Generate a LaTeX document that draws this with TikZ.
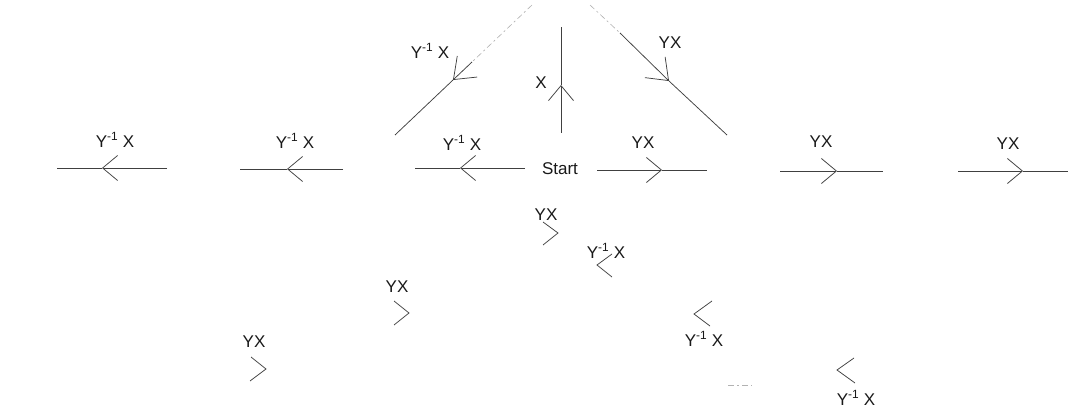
\documentclass[tikz,border=0pt]{standalone}
\usepackage{fontspec}
\setmainfont{Liberation Sans}
\usetikzlibrary{arrows.meta}
\tikzset{
  edge/.style={draw=black!75, line width=0.75pt},
  faint/.style={draw=black!30, line width=0.6pt, dash pattern=on 6pt off 3pt on 2pt off 3pt},
  hbarb/.style={-{Straight Barb[length=15pt,width=25pt]}},
  dbarb/.style={-{Straight Barb[length=19pt,width=29pt]}},
  chev/.style={draw=black!75, line width=0.75pt},
  lbl/.style={font=\fontsize{17}{19}\selectfont, text=black!90, inner sep=0pt}
}
\newcommand{\yinv}{Y\textsuperscript{-1} X}
\begin{document}
\begin{tikzpicture}[x=1pt,y=-1pt]
\useasboundingbox (0,0) rectangle (1069,409);
% horizontal arrows, left side (pointing left)
\coordinate (h1a) at (167,168); \coordinate (h1t) at (102,168); \coordinate (h1b) at (57,168);
\coordinate (h2a) at (343,169); \coordinate (h2t) at (287,169); \coordinate (h2b) at (240,169);
\coordinate (h3a) at (525,168); \coordinate (h3t) at (460,168); \coordinate (h3b) at (415,168);
\draw[edge,hbarb] (h1a) -- (h1t); \draw[edge] (h1t) -- (h1b);
\draw[edge,hbarb] (h2a) -- (h2t); \draw[edge] (h2t) -- (h2b);
\draw[edge,hbarb] (h3a) -- (h3t); \draw[edge] (h3t) -- (h3b);
% horizontal arrows, right side (pointing right)
\coordinate (h4a) at (597,170); \coordinate (h4t) at (662,170); \coordinate (h4b) at (707,170);
\coordinate (h5a) at (780,171); \coordinate (h5t) at (837,171); \coordinate (h5b) at (883,171);
\coordinate (h6a) at (958,171); \coordinate (h6t) at (1023,171); \coordinate (h6b) at (1068,171);
\draw[edge,hbarb] (h4a) -- (h4t); \draw[edge] (h4t) -- (h4b);
\draw[edge,hbarb] (h5a) -- (h5t); \draw[edge] (h5t) -- (h5b);
\draw[edge,hbarb] (h6a) -- (h6t); \draw[edge] (h6t) -- (h6b);
% vertical arrow
\coordinate (va) at (561,133); \coordinate (vt) at (561,85); \coordinate (vb) at (561,27);
\draw[edge,hbarb] (va) -- (vt); \draw[edge] (vt) -- (vb);
% left diagonal
\coordinate (lda) at (532,5); \coordinate (ldm) at (472,62); \coordinate (ldt) at (453,80); \coordinate (ldb) at (395,135);
\draw[faint] (lda) -- (ldm);
\draw[edge,dbarb] (ldm) -- (ldt); \draw[edge] (ldt) -- (ldb);
% right diagonal
\coordinate (rda) at (590,5); \coordinate (rdm) at (620,33); \coordinate (rdt) at (669,81); \coordinate (rdb) at (727,135);
\draw[faint] (rda) -- (rdm);
\draw[edge,dbarb] (rdm) -- (rdt); \draw[edge] (rdt) -- (rdb);
% lower chevrons
\draw[chev] (543,222) -- (558,233) -- (543,245);
\draw[chev] (612,254) -- (597,265) -- (612,277);
\draw[chev] (712,301) -- (694,314) -- (710,326);
\draw[chev] (854,358) -- (837,370) -- (855,383);
\draw[chev] (394,301) -- (409,313) -- (394,325);
\draw[chev] (251,357) -- (266,369) -- (250,381);
\draw[faint] (728,385) -- (752,385);
% labels
\node[lbl] (start) at (560,169) {Start};
\node[lbl] (l1) at (115,140) {\yinv};
\node[lbl] (l2) at (295,141) {\yinv};
\node[lbl] (l3) at (462,143) {\yinv};
\node[lbl] (l4) at (643,143) {YX};
\node[lbl] (l5) at (821,142) {YX};
\node[lbl] (l6) at (1008,144) {YX};
\node[lbl] (lx) at (541,83) {X};
\node[lbl] (ld) at (430,51) {\yinv};
\node[lbl] (rd) at (670,43) {YX};
\node[lbl] (b1) at (546,215) {YX};
\node[lbl] (b2) at (606,251) {\yinv};
\node[lbl] (b3) at (704,339) {\yinv};
\node[lbl] (b4) at (856,398) {\yinv};
\node[lbl] (b5) at (397,287) {YX};
\node[lbl] (b6) at (254,342) {YX};
\end{tikzpicture}
\end{document}
